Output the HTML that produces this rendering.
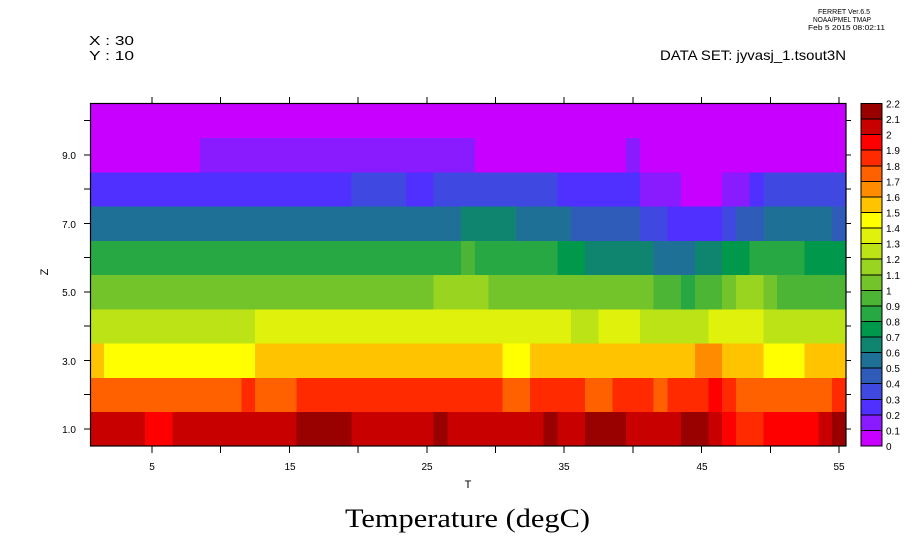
<!DOCTYPE html>
<html><head><meta charset="utf-8"><style>
html,body{margin:0;padding:0;background:#fff;width:921px;height:552px;overflow:hidden}
svg text{font-family:"Liberation Sans",sans-serif;fill:#000}
</style></head><body>
<svg id="s" width="921" height="552" viewBox="0 0 921 552" xmlns="http://www.w3.org/2000/svg">
<g id="cells" shape-rendering="crispEdges"></g>
<g id="cbar" shape-rendering="crispEdges"></g>
<rect x="90.5" y="103.5" width="755.5" height="342.5" fill="none" stroke="#000" stroke-width="1.2"/>
<g id="ticks" stroke="#000" stroke-width="1" shape-rendering="crispEdges"></g>
<text x="818" y="14" font-size="7" textLength="52" lengthAdjust="spacingAndGlyphs">FERRET  Ver.6.5</text>
<text x="813" y="22" font-size="7" textLength="58" lengthAdjust="spacingAndGlyphs">NOAA/PMEL TMAP</text>
<text x="808" y="30" font-size="7" textLength="77" lengthAdjust="spacingAndGlyphs">Feb  5 2015 08:02:11</text>
<text x="89" y="45" font-size="13" textLength="45" lengthAdjust="spacingAndGlyphs">X : 30</text>
<text x="89" y="60" font-size="13" textLength="45" lengthAdjust="spacingAndGlyphs">Y : 10</text>
<text x="660" y="60" font-size="14" textLength="186" lengthAdjust="spacingAndGlyphs">DATA SET: jyvasj_1.tsout3N</text>
<text x="152" y="470" font-size="10" text-anchor="middle">5</text>
<text x="290" y="470" font-size="10" text-anchor="middle">15</text>
<text x="427" y="470" font-size="10" text-anchor="middle">25</text>
<text x="564" y="470" font-size="10" text-anchor="middle">35</text>
<text x="702" y="470" font-size="10" text-anchor="middle">45</text>
<text x="839" y="470" font-size="10" text-anchor="middle">55</text>
<text x="468" y="488" font-size="11" text-anchor="middle">T</text>
<text x="76" y="159" font-size="10" text-anchor="end">9.0</text>
<text x="76" y="228" font-size="10" text-anchor="end">7.0</text>
<text x="76" y="296" font-size="10" text-anchor="end">5.0</text>
<text x="76" y="365" font-size="10" text-anchor="end">3.0</text>
<text x="76" y="433" font-size="10" text-anchor="end">1.0</text>
<text x="48" y="272" font-size="11" text-anchor="middle" transform="rotate(-90 48 272)">Z</text>
<text x="345" y="527" font-size="26" textLength="245" lengthAdjust="spacingAndGlyphs" style="font-family:'Liberation Serif',serif">Temperature (degC)</text>
</svg>
<script>
var C=["#c800ff","#8a1aff","#4f30ff","#3f48e0","#2e5cb8","#1f7096","#0f8570","#00994c","#28a842","#4cb535","#72c42a","#98d420","#bce316","#e0f20b","#ffff00","#ffc300","#ff8c00","#ff6000","#ff2a00","#ff0000","#c80000","#990000"];
var R={
10:[[0,1,55]],
9:[[0,1,8],[1,9,28],[0,29,39],[1,40,40],[0,41,55]],
8:[[2,1,19],[3,20,23],[2,24,25],[3,26,34],[2,35,40],[1,41,43],[0,44,46],[1,47,48],[2,49,49],[3,50,55]],
7:[[5,1,27],[6,28,31],[5,32,35],[4,36,40],[3,41,42],[2,43,46],[3,47,47],[4,48,49],[5,50,54],[4,55,55]],
6:[[8,1,27],[9,28,28],[8,29,34],[7,35,36],[6,37,41],[5,42,44],[6,45,46],[7,47,48],[8,49,52],[7,53,55]],
5:[[10,1,25],[11,26,29],[10,30,41],[9,42,43],[8,44,44],[9,45,46],[10,47,47],[11,48,49],[10,50,50],[9,51,55]],
4:[[12,1,12],[13,13,35],[12,36,37],[13,38,40],[12,41,45],[13,46,49],[12,50,55]],
3:[[15,1,1],[14,2,12],[15,13,30],[14,31,32],[15,33,44],[16,45,46],[15,47,49],[14,50,52],[15,53,55]],
2:[[17,1,11],[18,12,12],[17,13,15],[18,16,30],[17,31,32],[18,33,36],[17,37,38],[18,39,41],[17,42,42],[18,43,45],[19,46,46],[18,47,47],[17,48,54],[18,55,55]],
1:[[20,1,4],[19,5,6],[20,7,15],[21,16,19],[20,20,25],[21,26,26],[20,27,33],[21,34,34],[20,35,36],[21,37,39],[20,40,43],[21,44,45],[20,46,46],[19,47,47],[18,48,49],[19,50,53],[20,54,54],[21,55,55]]
};
var NS="http://www.w3.org/2000/svg";
function el(p,n,a){var e=document.createElementNS(NS,n);for(var k in a)e.setAttribute(k,a[k]);p.appendChild(e);return e;}
var x0=90.2,dx=13.74,y0=103.6,dy=34.25;
var g=document.getElementById("cells");
for(var z=1;z<=10;z++){R[z].forEach(function(r){
 var xa=x0+(r[1]-1)*dx, xb=x0+r[2]*dx, ya=y0+(10-z)*dy;
 el(g,"rect",{x:xa.toFixed(2),y:ya.toFixed(2),width:(xb-xa+0.3).toFixed(2),height:(dy+0.3).toFixed(2),fill:C[r[0]]});
});}
var cb=document.getElementById("cbar"),s=document.getElementById("s");
var cy0=103.5,ch=(446-103.5)/22;
for(var i=0;i<22;i++){
 var y=cy0+(21-i)*ch;
 el(cb,"rect",{x:861,y:y.toFixed(2),width:21,height:ch.toFixed(2),fill:C[i],stroke:"#000","stroke-width":1});
}
var labs=["0","0.1","0.2","0.3","0.4","0.5","0.6","0.7","0.8","0.9","1","1.1","1.2","1.3","1.4","1.5","1.6","1.7","1.8","1.9","2","2.1","2.2"];
for(var i=0;i<=22;i++){var t=el(s,"text",{x:886,y:(cy0+(22-i)*ch+4).toFixed(1),"font-size":10});t.textContent=labs[i];}
var tk=document.getElementById("ticks");
for(var v=5;v<=55;v+=5){var x=x0+(v-0.5)*dx;
 el(tk,"line",{x1:x,y1:446,x2:x,y2:453});el(tk,"line",{x1:x,y1:103.5,x2:x,y2:97});}
for(var z=1;z<=10;z++){var y=y0+(10.5-z)*dy;
 el(tk,"line",{x1:84,y1:y,x2:90.5,y2:y});el(tk,"line",{x1:846,y1:y,x2:851,y2:y});}
</script>
</body></html>
